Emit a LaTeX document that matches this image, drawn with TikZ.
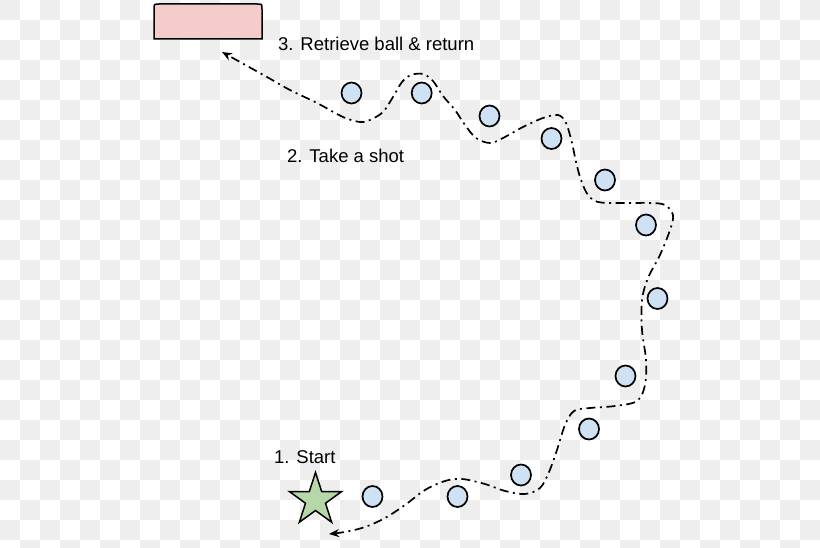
\documentclass[tikz,border=0pt]{standalone}
\usepackage{fontspec}
\setmainfont{Liberation Sans}
\usetikzlibrary{shapes.geometric,arrows.meta}
\definecolor{checkgray}{HTML}{EEEEEE}
\definecolor{ballblue}{HTML}{CFE2F3}
\definecolor{boxpink}{HTML}{F4CCCC}
\definecolor{stargreen}{HTML}{B6D7A8}
\begin{document}
\begin{tikzpicture}[x=1pt,y=-1pt,
  ball/.style={ellipse, draw=black, line width=1.7pt, fill=ballblue, minimum width=20pt, minimum height=21pt, inner sep=0pt},
  lbl/.style={anchor=base west, inner sep=0pt, font=\fontsize{18.5}{22}\selectfont},
  route/.style={line width=1.7pt, dash pattern=on 9pt off 4.5pt on 2pt off 4.5pt,
    {Stealth[length=10pt,width=8pt]}-{Stealth[length=10pt,width=8pt]}}]
\useasboundingbox (0,0) rectangle (820,548);
% checkerboard background
\fill[white] (0,0) rectangle (820,548);
\foreach \i in {0,...,40}{
  \foreach \j in {0,...,27}{
    \pgfmathtruncatemacro{\myparity}{mod(\i+\j,2)}
    \ifnum\myparity=0
      \fill[checkgray] (\i*20,\j*20) rectangle ++(20,20);
    \fi
  }
}
\clip (0,0) rectangle (820,548);
% pink box
\draw[line width=1.5pt, fill=boxpink] (154,39) -- (154,9) .. controls (154,4) .. (159,4) -- (257,4) .. controls (262,4) .. (262,9) -- (262,39) -- cycle;
\node[inner sep=0pt, minimum width=108pt, minimum height=35pt] (box) at (208,21.5) {};
% star
\node[star, star points=5, star point ratio=2.618, minimum size=55pt, inner sep=0pt, draw=black, fill=stargreen, line width=1.5pt] (start) at (315.5,500) {};
% balls
\node[ball] (b1) at (351.5,93) {};
\node[ball] (b2) at (421.7,93) {};
\node[ball] (b3) at (489.5,116) {};
\node[ball] (b4) at (551.5,138.5) {};
\node[ball] (b5) at (605,180) {};
\node[ball] (b6) at (646,225) {};
\node[ball] (b7) at (657.5,298.5) {};
\node[ball] (b8) at (625.5,376) {};
\node[ball] (b9) at (589,429) {};
\node[ball] (b10) at (521,475) {};
\node[ball] (b11) at (457.5,496.5) {};
\node[ball] (b12) at (372.5,496.5) {};
% labels
\node[lbl] (l3) at (278,51) {3. Retrieve ball \& return};
\node[lbl] (l2) at (287,163) {2. Take a shot};
\node[lbl] (l1) at (274,463) {1. Start};
% route
\coordinate (routeS) at (329,534);
\coordinate (routeE) at (222,52);
\draw[route] plot[smooth, tension=0.55] coordinates {(routeS) (345,532) (365,527) (385,518) (405,505) (425,490) (445,481) (462,479) (485,484) (505,491) (525,494) (540,488) (549,472) (557,450) (565,425) (574,411) (590,408) (615,406) (637,401) (645,385) (646,360) (642,330) (642,300) (648,278) (660,255) (670,230) (673,215) (665,205) (650,203) (620,203) (598,202) (588,195) (581,180) (576,162) (572,143) (566,123) (558,115) (543,118) (523,127) (503,138) (490,143) (476,138) (465,125) (455,110) (443,96) (433,81) (423,74) (411,75) (402,82) (393,97) (383,112) (370,120) (360,122) (343,117) (317,103) (290,90) (267,77) (240,62) (routeE)};
\end{tikzpicture}
\end{document}
